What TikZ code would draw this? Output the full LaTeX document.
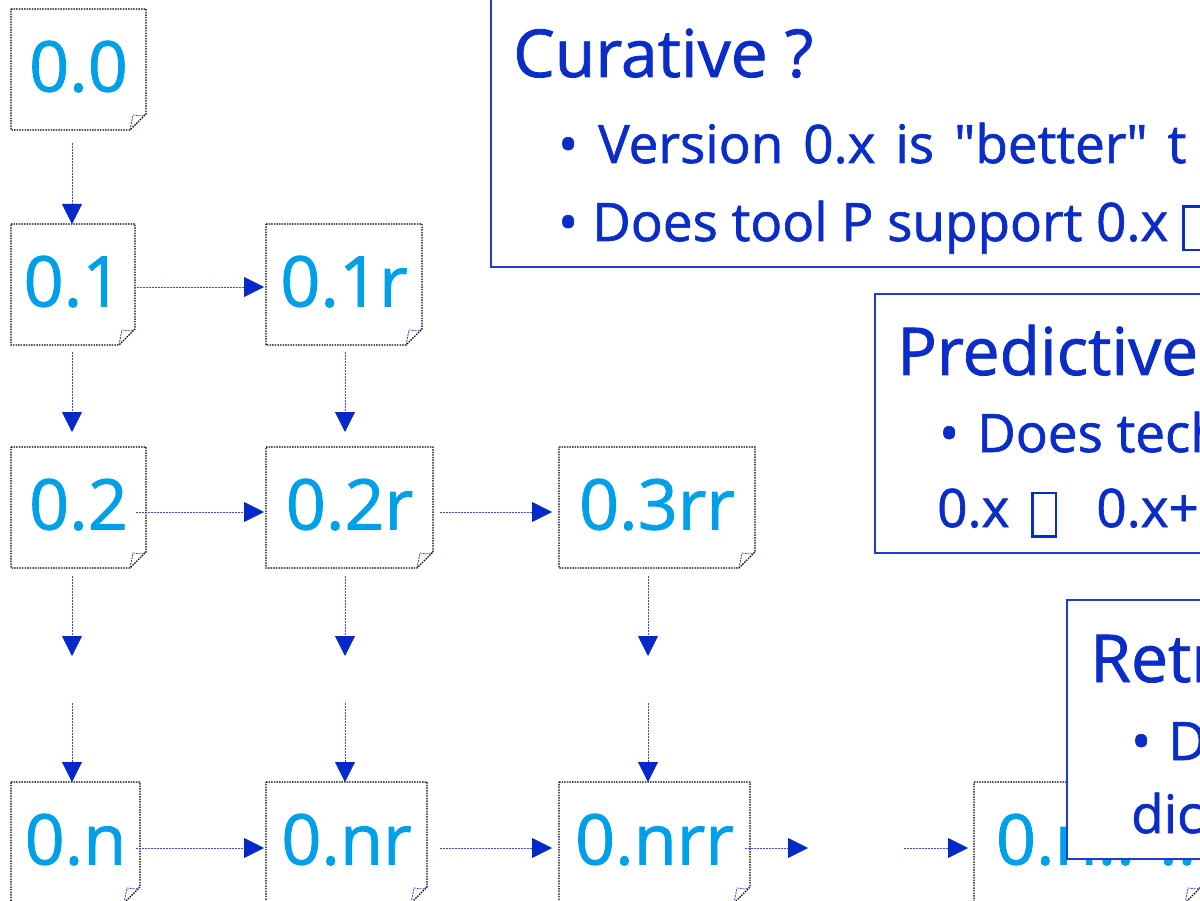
\documentclass[tikz,border=0pt]{standalone}
\usepackage{fontspec}
\setmainfont{Open Sans}
\newfontfamily\heavyfont{Open Sans}[FakeBold=1.2]
\usetikzlibrary{arrows.meta}
\definecolor{nodetxt}{RGB}{0,160,233}
\definecolor{boxblue}{RGB}{30,60,210}
\definecolor{txtblue}{RGB}{10,45,200}
\definecolor{arrline}{RGB}{40,80,230}
\definecolor{arrhead}{RGB}{5,40,200}
\definecolor{curlc}{RGB}{40,70,230}
\newcommand\tofu{{\setlength{\fboxrule}{2.5pt}\setlength{\fboxsep}{0pt}\raisebox{-8pt}{\fbox{\rule{0pt}{41pt}\hspace{21pt}}}}}
\tikzset{
  docnode/.style={inner sep=0pt, outer sep=0pt, text=nodetxt,
    font=\heavyfont\fontsize{70pt}{84pt}\selectfont, text height=47pt, text depth=3pt},
  docline/.style={draw=black, line width=1.1pt, dash pattern=on 1.5pt off 1.1pt},
  curlline/.style={draw=curlc, line width=0.8pt, dash pattern=on 2pt off 1pt},
  conn/.style={draw=arrline, line width=0.8pt, dash pattern=on 2pt off 1pt,
    -{Triangle[length=20pt,width=20pt,color=arrhead]}},
  tbox/.style={draw=boxblue, line width=2pt, fill=white, inner sep=0pt, outer sep=0pt},
  titletxt/.style={text=txtblue, inner sep=0pt, font=\heavyfont\fontsize{66pt}{78pt}\selectfont},
  bodytxt/.style={text=txtblue, inner sep=0pt, font=\heavyfont\fontsize{53pt}{64pt}\selectfont},
}
\newcommand\mkdoc[6]{%
  \node[docnode, minimum width=#4pt, minimum height=#5pt] (#1) at (#2,#3) {#6};
  \draw[docline] (#1.north west) -- (#1.north east) -- ([yshift=16pt]#1.south east)
     -- ([xshift=-16pt]#1.south east) -- (#1.south west) -- cycle;
  \draw[curlline] ([xshift=-16pt]#1.south east) -- ([xshift=-13pt,yshift=15pt]#1.south east)
     -- ([xshift=-4pt,yshift=14pt]#1.south east) -- ([yshift=16pt]#1.south east);
}
\begin{document}
\begin{tikzpicture}[x=1pt,y=-1pt]
\useasboundingbox (0,0) rectangle (1200,901);
\clip (0,0) rectangle (1200,901);
\fill[white] (0,0) rectangle (1200,901);

% documents
\mkdoc{n00}{78.5}{69.5}{135}{121}{0.0}
\mkdoc{n01}{73}{284.5}{124}{121}{0.1}
\mkdoc{n01r}{344}{284.5}{156}{121}{0.1r}
\mkdoc{n02}{78.5}{507.5}{135}{121}{0.2}
\mkdoc{n02r}{349.5}{507.5}{167}{121}{0.2r}
\mkdoc{n03rr}{657}{507.5}{196}{121}{0.3rr}
\mkdoc{n0n}{75.5}{842.5}{129}{121}{0.n}
\mkdoc{n0nr}{346.5}{842.5}{161}{121}{0.nr}
\mkdoc{n0nrr}{654.5}{842.5}{191}{121}{0.nrr}
\mkdoc{n0nd}{1087.5}{842.5}{227}{121}{\makebox[183pt][l]{0.n.. ....}}

% helper coordinates
\coordinate (cA) at (72,0);
\coordinate (cB) at (345,0);
\coordinate (cC) at (648,0);
\coordinate (rA) at (0,287);
\coordinate (rB) at (0,512);
\coordinate (rC) at (0,848);
\coordinate (gA1) at (72,656);  \coordinate (gA2) at (72,703);
\coordinate (gB1) at (345,656); \coordinate (gB2) at (345,703);
\coordinate (gC1) at (648,656); \coordinate (gC2) at (648,703);
\coordinate (gD1) at (808,848); \coordinate (gD2) at (904,848);

% vertical connectors
\draw[conn, shorten <=13pt] (n00.south -| cA) -- (n01.north -| cA);
\draw[conn, shorten <=7pt, shorten >=15pt] (n01.south -| cA) -- (n02.north -| cA);
\draw[conn, shorten <=7pt, shorten >=15pt] (n01r.south -| cB) -- (n02r.north -| cB);
\draw[conn, shorten <=8pt] (n02.south -| cA) -- (gA1);
\draw[conn, shorten <=8pt] (n02r.south -| cB) -- (gB1);
\draw[conn, shorten <=8pt] (n03rr.south -| cC) -- (gC1);
\draw[conn] (gA2) -- (n0n.north -| cA);
\draw[conn] (gB2) -- (n0nr.north -| cB);
\draw[conn] (gC2) -- (n0nrr.north -| cC);

% horizontal connectors
\draw[conn, shorten <=2pt, shorten >=2pt] (n01.east |- rA) -- (n01r.west |- rA);
\draw[conn, shorten <=-10pt, shorten >=2pt] (n02.east |- rB) -- (n02r.west |- rB);
\draw[conn, shorten <=7pt, shorten >=7pt] (n02r.east |- rB) -- (n03rr.west |- rB);
\draw[conn, shorten <=-4pt, shorten >=2pt] (n0n.east |- rC) -- (n0nr.west |- rC);
\draw[conn, shorten <=13pt, shorten >=7pt] (n0nr.east |- rC) -- (n0nrr.west |- rC);
\draw[conn, shorten <=-5pt] (n0nrr.east |- rC) -- (gD1);
\draw[conn, shorten >=6pt] (gD2) -- (n0nd.west |- rC);

% Curative box
\node[tbox, anchor=south west, minimum width=740pt, minimum height=290pt] (cur) at (491,267) {};
\node[titletxt, anchor=base west] (curT) at (513,77) {Curative ?};
\node[bodytxt, anchor=base west] (curB1) at (558,163) {•};
\node[bodytxt, anchor=base west] (curL1) at (598,163) {\spaceskip=20pt Version 0.x is \textquotedbl better\textquotedbl\ t};
\node[bodytxt, anchor=base west] (curB2) at (558,241) {•};
\node[bodytxt, anchor=base west] (curL2) at (592,241) {Does tool P support 0.x\hspace{14pt}\tofu};

% Predictive box
\node[tbox, anchor=north west, minimum width=345pt, minimum height=259pt] (pred) at (875,294) {};
\node[titletxt, anchor=base west] (predT) at (897,375) {Predictive};
\node[bodytxt, anchor=base west] (predB1) at (939,452) {•};
\node[bodytxt, anchor=base west] (predL1) at (977,452) {Does tech};
\node[bodytxt, anchor=base west] (predL2) at (937,527) {0.x\hspace{22pt}\tofu\hspace{39pt}0.x+};

% Retr box
\node[tbox, anchor=north west, minimum width=150pt, minimum height=259pt] (ret) at (1067,600) {};
\node[titletxt, anchor=base west] (retT) at (1090,682) {Retr};
\node[bodytxt, anchor=base west] (retB1) at (1131,760) {•};
\node[bodytxt, anchor=base west] (retL1) at (1168,760) {D};
\node[bodytxt, anchor=base west] (retL2) at (1131,833) {dic};
\end{tikzpicture}
\end{document}
